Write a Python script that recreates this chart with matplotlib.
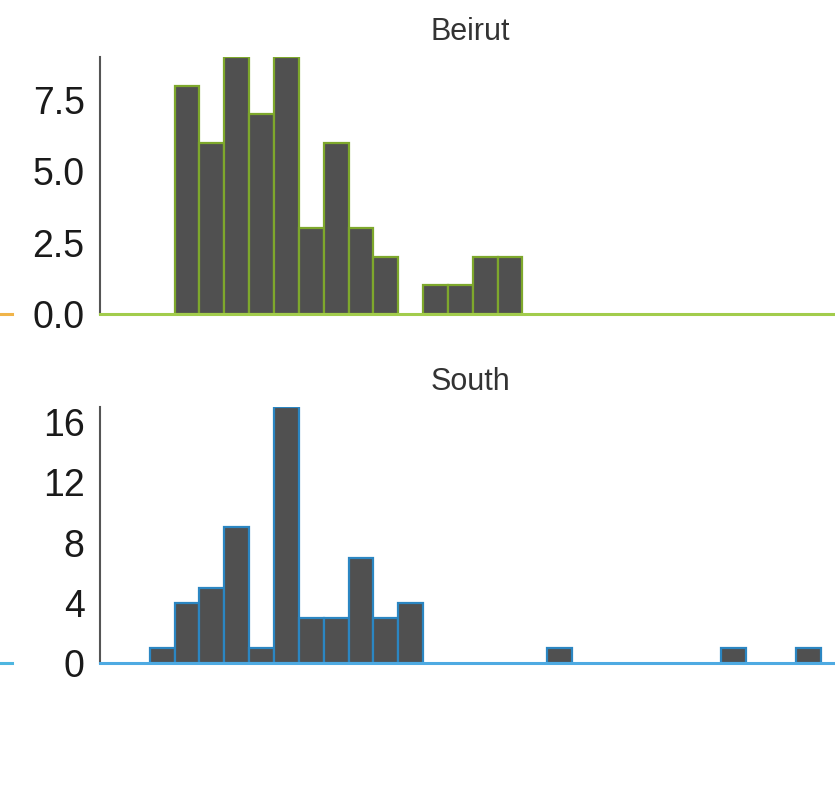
import matplotlib.pyplot as plt
import numpy as np

# Histogram counts per bin (shared bins, left to right)
beirut_counts = [0, 8, 6, 9, 7, 9, 3, 6, 3, 2, 0, 1, 1, 2, 2]
south_counts = [1, 4, 5, 9, 1, 17, 3, 3, 7, 3, 4, 0, 0, 0, 0, 0, 1, 0, 0, 0, 0, 0, 0, 1, 0, 0, 1]
titles = ['Beirut', 'South']
beirut_ticks = [0.0, 2.5, 5.0, 7.5]
south_ticks = [0, 4, 8, 12, 16]

fill_color = '#505050'
edge_colors = ['#7ea82c', '#2b86c2']
spine_colors = ['#a2cc4c', '#4eaae2']
neighbor_colors = ['#f0b449', '#4eb6e0']

W, H = 835, 802
fig = plt.figure(figsize=(W / 100, H / 100), dpi=100)
plt.rcParams['font.family'] = ['Liberation Sans', 'DejaVu Sans']

bin_px = 24.85
x_left = -2
# axes from pixel 100 to 840 (runs just past the right edge)
ax_w_px = 740
x_right = x_left + ax_w_px / bin_px

rows = [
    (beirut_counts, beirut_ticks, 57, 314, '{:.1f}'),
    (south_counts, south_ticks, 407, 663, '{:d}'),
]

for i, (counts, ticks, top_px, bot_px, fmt) in enumerate(rows):
    ax = fig.add_axes([100 / W, 1 - bot_px / H, ax_w_px / W, (bot_px - top_px) / H])
    counts = np.array(counts)
    lefts = np.arange(len(counts))
    mask = counts > 0
    ax.bar(lefts[mask], counts[mask], width=1, align='edge', color=fill_color,
           edgecolor=edge_colors[i], linewidth=1.6, zorder=2)
    ax.set_xlim(x_left, x_right)
    ax.set_ylim(0, counts.max())
    ax.set_yticks(ticks)
    ax.set_yticklabels([fmt.format(t) for t in ticks])
    ax.tick_params(axis='y', length=0, pad=11, labelsize=27, labelcolor='#1a1a1a')
    ax.set_xticks([])
    for s in ['top', 'right']:
        ax.spines[s].set_visible(False)
    ax.spines['left'].set_color('#555555')
    ax.spines['left'].set_linewidth(1.5)
    ax.spines['bottom'].set_color(spine_colors[i])
    ax.spines['bottom'].set_linewidth(2.2)
    ax.spines['bottom'].set_zorder(3)
    ax.set_title(titles[i], fontsize=22, color='#333333', pad=12,
                 family=['Liberation Sans Narrow', 'Liberation Sans', 'DejaVu Sans'])

    # neighbouring panel, only its baseline peeks in at the left edge
    nb = fig.add_axes([-300 / W, 1 - bot_px / H, 312 / W, (bot_px - top_px) / H])
    nb.set_axis_off()
    nb.axhline(0, color=neighbor_colors[i], linewidth=2.2, clip_on=False)
    nb.set_ylim(0, 1)

fig.savefig('out.png', dpi=100)
